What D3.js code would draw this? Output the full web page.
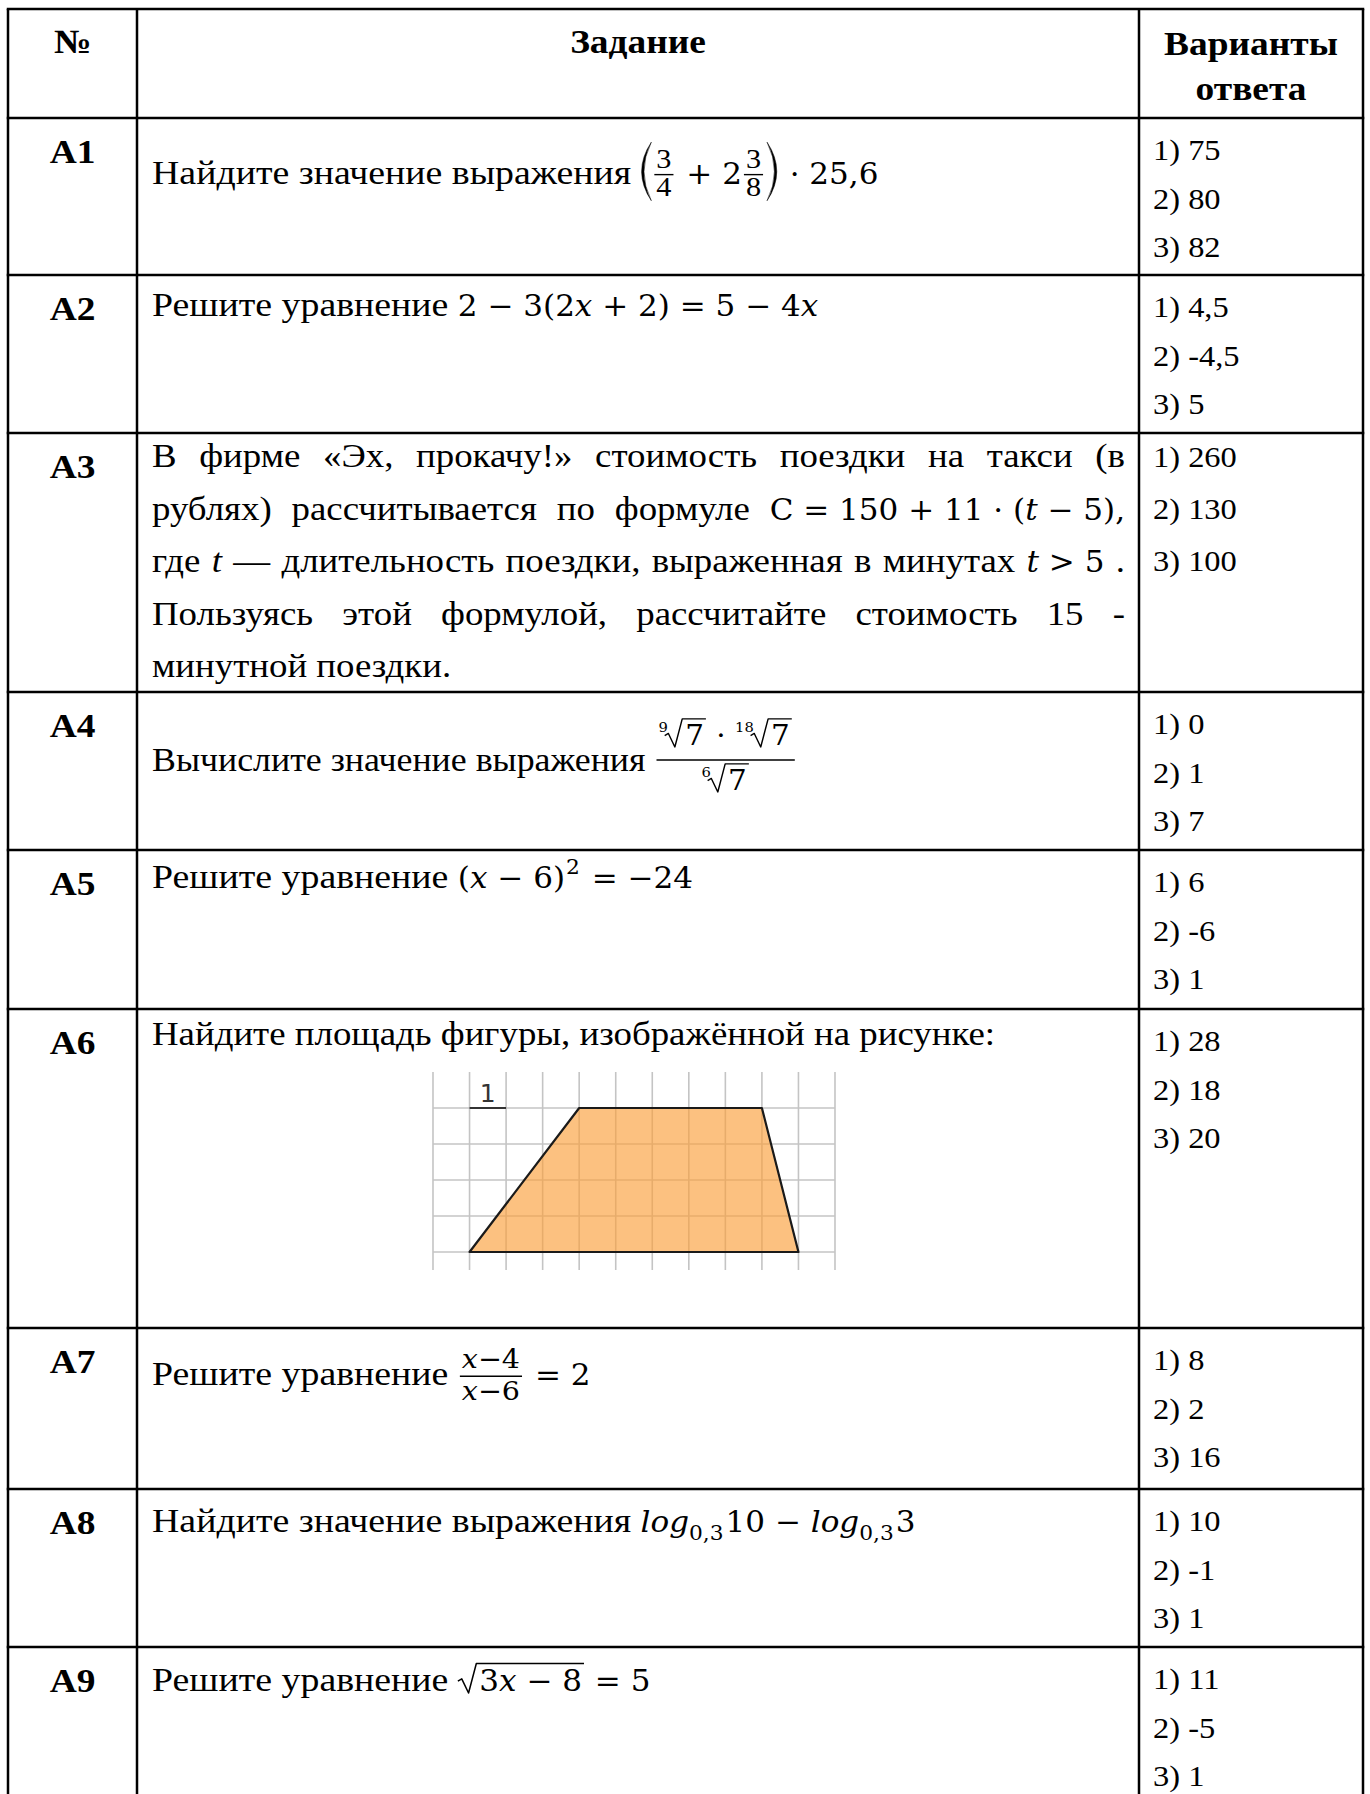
<!DOCTYPE html>
<html>
<head>
<meta charset="utf-8">
<script src="https://cdn.jsdelivr.net/npm/d3@7"></script>
<style>
  body { margin: 0; background: #fff; }
  text { white-space: pre; }
</style>
</head>
<body>
<div id="chart"></div>
<script>
// ---- data ----
const headers = ["№", "Задание", ["Варианты", "ответа"]];
const ids = ["A1", "A2", "A3", "A4", "A5", "A6", "A7", "A8", "A9"];
const answers = [
  ["1) 75", "2) 80", "3) 82"],
  ["1) 4,5", "2) -4,5", "3) 5"],
  ["1) 260", "2) 130", "3) 100"],
  ["1) 0", "2) 1", "3) 7"],
  ["1) 6", "2) -6", "3) 1"],
  ["1) 28", "2) 18", "3) 20"],
  ["1) 8", "2) 2", "3) 16"],
  ["1) 10", "2) -1", "3) 1"],
  ["1) 11", "2) -5", "3) 1"]
];
const X = {i: "x"}, T = {i: "t"};
const tasks = [
  [{ln: ["Найдите значение выражения ",
    {paren: [{frac: [["3"], ["4"]], st: "s"}, {m: " + 2"}, {frac: [["3"], ["8"]], st: "s"}]},
    {m: " · 25,6"}]}],
  [{ln: ["Решите уравнение ", {m: "2 − 3(2"}, X, {m: " + 2) = 5 − 4"}, X]}],
  [{jw: ["В", "фирме", "«Эх,", "прокачу!»", "стоимость", "поездки", "на", "такси", "(в"]},
   {jw: ["рублях)", "рассчитывается", "по", "формуле", [{m: "C = 150 + 11 · ("}, T, {m: " − 5),"}]]},
   {jw: ["где", [{ti: "t"}], "—", "длительность", "поездки,", "выраженная", "в", "минутах", [T, {m: " > 5"}], "."]},
   {jw: ["Пользуясь", "этой", "формулой,", "рассчитайте", "стоимость", "15", "-"]},
   {ln: ["минутной поездки."]}],
  [{ln: ["Вычислите значение выражения ",
    {frac: [[{root: ["9", [{m: "7"}]]}, {m: " · "}, {root: ["18", [{m: "7"}]]}], [{root: ["6", [{m: "7"}]]}]], st: "r"}]}],
  [{ln: ["Решите уравнение ", {m: "("}, X, {m: " − 6)"}, {sup: "2"}, {m: " = −24"}]}],
  [{ln: ["Найдите площадь фигуры, изображённой на рисунке:"]}],
  [{ln: ["Решите уравнение ", {frac: [[X, {m: "−4"}], [X, {m: "−6"}]], st: "x"}, {m: " = 2"}]}],
  [{ln: ["Найдите значение выражения ", {i: "log"}, {sub: "0,3"}, {m: "10 − "}, {i: "log"}, {sub: "0,3"}, {m: "3"}]}],
  [{ln: ["Решите уравнение ", {sqrt: [{m: "3"}, X, {m: " − 8"}]}, {m: " = 5"}]}]
];
// figure in A6: grid size and trapezoid corners in cells
const gridCols = 11, gridRows = 5;
const shape = [[1, 5], [4, 1], [9, 1], [10, 5]];
const unitMark = [[1, 1], [2, 1]];

// ---- layout ----
const W = 1370, H = 1794;
const SERIF = "'Liberation Serif','Times New Roman',serif";
const MATH = "'DejaVu Serif',serif";
const FS = 33.5, SX = 1.1;          // text
const rowSX = [1.13, 1.13, 1.1, 1.07, 1.13, 1.1, 1.13, 1.13, 1.13];
const MR = 29 / 33.5, MSX = 1.07;   // math relative size, stretch
const AFS = 29.5, BFS = 34;
const colX = [8, 137, 1139, 1363];
const rowY = [9, 118, 275, 433, 692, 850, 1009, 1328, 1489, 1647, 1812];
const taskBase = [[184], [316], [467, 519.5, 572, 624.5, 677], [771], [888], [1045], [1385], [1532], [1691]];
const ansBase = [42, 48.5];
const a3Ans = [467, 519, 571];
const textL = 152, textR = 1125;
const fracSt = {
  s: {k: 0.8, ax: 0.28, up: 7, dn: 21},
  r: {k: 0.95, ax: 0.33, up: 15, dn: 30},
  x: {k: 0.92, ax: 0.26, up: 8, dn: 24}
};
let curSX = SX;

const svg = d3.select("#chart").append("svg")
  .attr("width", W).attr("height", H)
  .style("background", "#fff");

function txt(g, s, x, y, size, fam, o = {}) {
  const sx = o.sx || 1;
  const t = g.append("text")
    .attr("transform", `translate(${x},${y}) scale(${sx},1)`)
    .attr("font-family", fam)
    .attr("font-size", size)
    .attr("font-style", o.it ? "italic" : null)
    .attr("font-weight", o.b ? "bold" : null)
    .attr("text-anchor", o.a || null)
    .attr("fill", "#000")
    .text(s);
  return t.node().getComputedTextLength() * sx;
}
const tx = (g, s, x, y, fs, o = {}) => txt(g, s, x, y, fs, SERIF, Object.assign({sx: SX}, o));
const mx = (g, s, x, y, fs, o = {}) => txt(g, s, x, y, fs * MR, MATH, Object.assign({sx: MSX}, o));

function put(g, items, x, y, fs) {
  let cx = x;
  for (const it of items) {
    if (typeof it === "string") cx += tx(g, it, cx, y, fs, {sx: curSX});
    else if ("ti" in it) cx += tx(g, it.ti, cx, y, fs, {it: true, sx: curSX});
    else if ("m" in it) cx += mx(g, it.m, cx, y, fs);
    else if ("i" in it) cx += mx(g, it.i, cx, y, fs, {it: true});
    else if ("sup" in it) cx += mx(g, it.sup, cx + 1, y - fs * 0.42, fs * 0.7) + 3;
    else if ("sub" in it) cx += mx(g, it.sub, cx, y + fs * 0.24, fs * 0.7) + 2;
    else if ("frac" in it) cx += frac(g, it, cx, y, fs);
    else if ("paren" in it) cx += paren(g, it.paren, cx, y, fs);
    else if ("root" in it) cx += root(g, it.root[0], it.root[1], cx, y, fs);
    else if ("sqrt" in it) cx += root(g, null, it.sqrt, cx, y, fs);
  }
  return cx - x;
}

function frac(g, it, x, y, fs) {
  const st = fracSt[it.st];
  const s = fs * st.k;
  const gn = g.append("g"), gd = g.append("g");
  const wn = put(gn, it.frac[0], 0, 0, s);
  const wd = put(gd, it.frac[1], 0, 0, s);
  const w = Math.max(wn, wd) + 4;
  const axis = y - fs * st.ax;
  gn.attr("transform", `translate(${x + 2 + (w - wn) / 2},${axis - st.up})`);
  gd.attr("transform", `translate(${x + 2 + (w - wd) / 2},${axis + st.dn})`);
  g.append("line")
    .attr("x1", x + 2).attr("x2", x + w + 2)
    .attr("y1", axis).attr("y2", axis)
    .attr("stroke", "#000").attr("stroke-width", 1.4);
  return w + 5;
}

function parenPath(x, top, bot, w, th, flip) {
  const mid = (top + bot) / 2;
  const ex = flip ? x : x + w, in0 = flip ? x + w - 1 : x + 1, d = flip ? -1 : 1;
  const c1 = 2 * in0 - ex, c2 = 2 * (in0 + d * th) - ex;
  return `M${ex},${top} Q${c1},${mid} ${ex},${bot} Q${c2},${mid} ${ex},${top} Z`;
}

function paren(g, body, x, y, fs) {
  const top = y - fs * 1.25, bot = y + fs * 0.5, w = fs * 0.32;
  g.append("path").attr("d", parenPath(x, top, bot, w, 2.4, false)).attr("fill", "#000").attr("stroke", "#000").attr("stroke-width", 0.5);
  const bw = put(g.append("g"), body, x + w + 1, y, fs);
  const rx = x + w + 2 + bw;
  g.append("path").attr("d", parenPath(rx, top, bot, w, 2.4, true)).attr("fill", "#000").attr("stroke", "#000").attr("stroke-width", 0.5);
  return rx + w + 2 - x;
}

function root(g, idx, body, x, y, fs) {
  let cx = x;
  const h = fs * 0.82;
  if (idx) {
    const iw = mx(g, idx, cx, y - fs * 0.42, fs * 0.5);
    cx += Math.max(iw - fs * 0.1, 0);
  }
  const sw = fs * 0.58;
  const gb = g.append("g");
  const bw = put(gb, body, 0, 0, fs);
  gb.attr("transform", `translate(${cx + sw + 2},${y})`);
  g.append("path")
    .attr("d", `M${cx},${y - h * 0.36} L${cx + sw * 0.2},${y - h * 0.44} L${cx + sw * 0.55},${y + 2} L${cx + sw * 0.95},${y - h} L${cx + sw + bw + 4},${y - h}`)
    .attr("fill", "none").attr("stroke", "#000").attr("stroke-width", Math.max(1.2, fs * 0.045))
    .attr("stroke-linejoin", "round");
  return cx + sw + bw + 5 - x;
}

// ---- table lines ----
const grid = svg.append("g").attr("stroke", "#000").attr("stroke-width", 2.5);
rowY.forEach(y => grid.append("line").attr("x1", colX[0] - 1.25).attr("x2", colX[3] + 1.25).attr("y1", y).attr("y2", y));
colX.forEach(x => grid.append("line").attr("x1", x).attr("x2", x).attr("y1", rowY[0]).attr("y2", H + 10));

// ---- header ----
const hg = svg.append("g");
tx(hg, headers[0], (colX[0] + colX[1]) / 2, 53, BFS, {b: true, a: "middle"});
tx(hg, headers[1], (colX[1] + colX[2]) / 2, 53, BFS, {b: true, a: "middle"});
headers[2].forEach((s, i) => tx(hg, s, (colX[2] + colX[3]) / 2, 55 + i * 45, BFS, {b: true, a: "middle"}));

// ---- rows ----
ids.forEach((id, r) => {
  const top = rowY[r + 1];
  const g = svg.append("g").attr("class", "row");
  tx(g, id, (colX[0] + colX[1]) / 2, top + 45, BFS, {b: true, a: "middle"});

  curSX = rowSX[r];
  tasks[r].forEach((line, li) => {
    const y = taskBase[r][li];
    if (line.ln) { put(g, line.ln, textL, y, FS); return; }
    // justified line
    const parts = line.jw.map(tok => {
      const pg = g.append("g");
      const w = put(pg, typeof tok === "string" ? [tok] : tok, 0, y, FS);
      return {pg, w};
    });
    const gap = (textR - textL - d3.sum(parts, p => p.w)) / (parts.length - 1);
    let cx = textL;
    parts.forEach(p => { p.pg.attr("transform", `translate(${cx},0)`); cx += p.w + gap; });
  });
  curSX = SX;

  answers[r].forEach((a, i) => {
    const y = r === 2 ? a3Ans[i] : top + ansBase[0] + ansBase[1] * i;
    tx(g, a, colX[2] + 14, y, AFS);
  });
});

// ---- A6 figure ----
const gx = d3.scaleLinear().domain([0, gridCols]).range([433, 835]);
const gy = d3.scaleLinear().domain([0, gridRows]).range([1072, 1252]);
const fig = svg.append("g");
fig.append("g").attr("stroke", "#c4c4c4").attr("stroke-width", 1.6)
  .selectAll("line").data(d3.range(gridCols + 1)).join("line")
  .attr("x1", d => gx(d)).attr("x2", d => gx(d))
  .attr("y1", gy(0)).attr("y2", gy(gridRows) + 18);
fig.append("g").attr("stroke", "#c4c4c4").attr("stroke-width", 1.6)
  .selectAll("line").data(d3.range(1, gridRows + 1)).join("line")
  .attr("x1", gx(0)).attr("x2", gx(gridCols))
  .attr("y1", d => gy(d)).attr("y2", d => gy(d));
fig.append("path")
  .attr("d", d3.line().x(d => gx(d[0])).y(d => gy(d[1]))(shape) + "Z")
  .attr("fill", "rgba(250,160,60,0.65)")
  .attr("stroke", "#1a1a1a").attr("stroke-width", 2.2).attr("stroke-linejoin", "round");
fig.append("line")
  .attr("x1", gx(unitMark[0][0])).attr("x2", gx(unitMark[1][0]))
  .attr("y1", gy(unitMark[0][1])).attr("y2", gy(unitMark[1][1]))
  .attr("stroke", "#333").attr("stroke-width", 2);
fig.append("text")
  .attr("x", gx((unitMark[0][0] + unitMark[1][0]) / 2)).attr("y", gy(1) - 6)
  .attr("text-anchor", "middle").attr("font-family", "'DejaVu Sans',sans-serif")
  .attr("font-size", 25).attr("fill", "#333").text("1");
</script>
</body>
</html>
